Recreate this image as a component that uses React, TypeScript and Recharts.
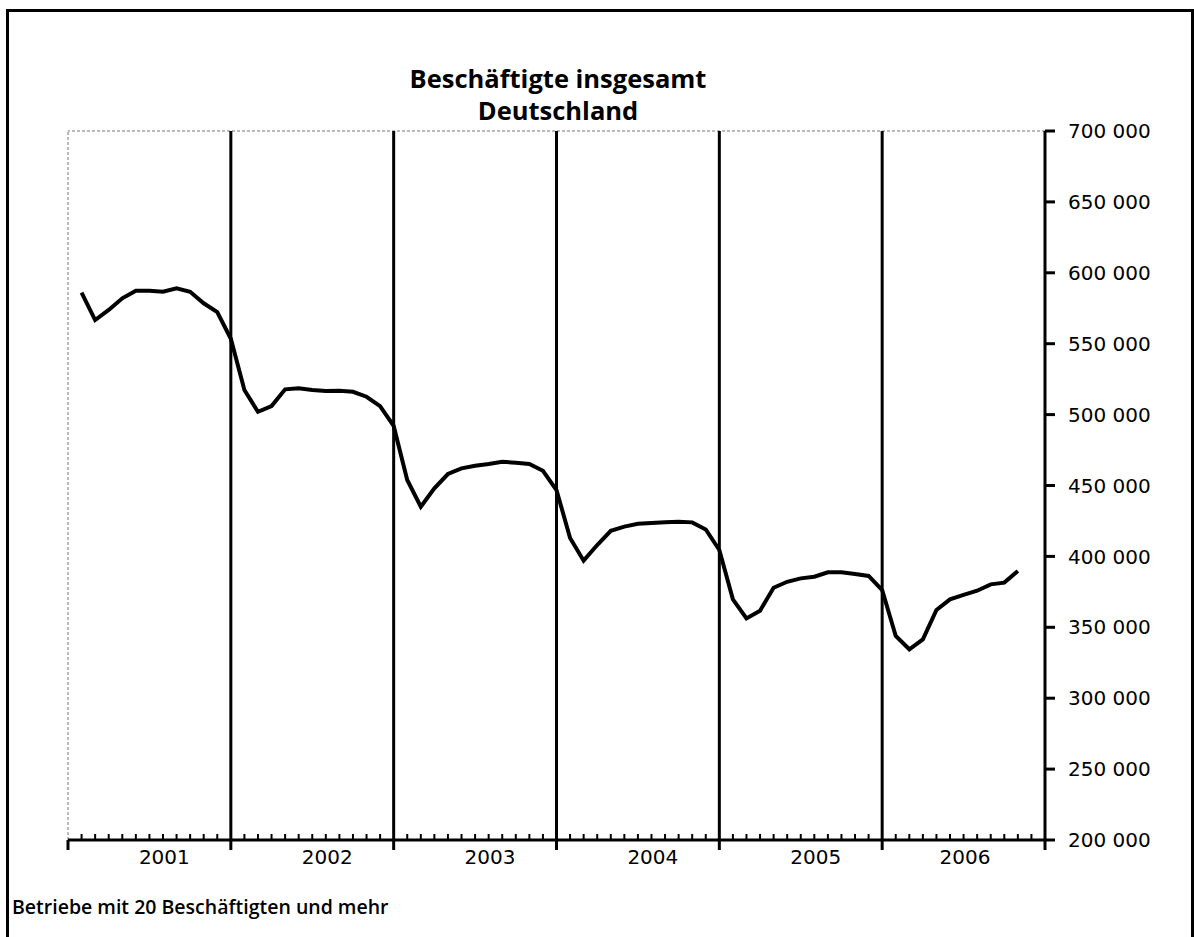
import React from "react";
import { LineChart, Line, XAxis, YAxis, ReferenceLine } from "recharts";

// Beschäftigte insgesamt, Deutschland – monthly values per year
const YEARS = ["2001", "2002", "2003", "2004", "2005", "2006"];
const V2001 = [586000, 566700, 573800, 582000, 587400, 587400, 586600, 589000, 586600, 578500, 572300, 553500];
const V2002 = [517300, 502000, 506000, 517800, 518500, 517300, 516600, 516800, 516100, 512600, 506000, 492000];
const V2003 = [453900, 435000, 448000, 458100, 462100, 463900, 465200, 466800, 466000, 465200, 460400, 446800];
const V2004 = [413000, 397000, 408000, 418000, 421000, 423000, 423500, 424000, 424500, 424000, 419000, 404500];
const V2005 = [369700, 356300, 361700, 377900, 382100, 384500, 385700, 388800, 388800, 387600, 386200, 376300];
const V2006 = [343900, 334500, 341500, 362200, 369700, 372800, 375800, 380300, 381500, 389700];

const Y_TICKS = [200000, 250000, 300000, 350000, 400000, 450000, 500000, 550000, 600000, 650000, 700000];

const series = [V2001, V2002, V2003, V2004, V2005, V2006];
const data = series.flatMap((vals, yi) => vals.map((v, m) => ({ month: yi * 12 + m + 1, value: v })));

const MONTH_TICKS = Array.from({ length: 73 }, (_, i) => i);
const YEAR_BOUNDS = [12, 24, 36, 48, 60];
// year labels sit roughly in the middle of each year's months
const YEAR_LABEL_TICKS = series.map((vals, yi) => yi * 12 + (1 + vals.length) / 2 + 0.6);
const X_TICKS = [...MONTH_TICKS, ...YEAR_LABEL_TICKS].sort((a, b) => a - b);

const NUM_FONT = "'DejaVu Sans', sans-serif";

const fmt = (v: number) => {
  const s = String(v);
  return s.slice(0, s.length - 3) + " " + s.slice(-3);
};

const MonthTick = (props: any) => {
  const { x, y, payload } = props;
  const i = payload.value as number;
  if (!Number.isInteger(i)) {
    return (
      <text x={x} y={y + 24} textAnchor="middle" fontSize={20} fontFamily={NUM_FONT} fill="#000">
        {YEARS[Math.floor(i / 12)]}
      </text>
    );
  }
  const major = i % 12 === 0;
  return <line x1={x} x2={x} y1={y} y2={major ? y + 10 : y - 6} stroke="#000" strokeWidth={major ? 3 : 2} />;
};

export default function App() {
  return (
    <div style={{ position: "relative", width: 1194, height: 937, fontFamily: "'Open Sans', sans-serif" }}>
      <style>{`body{margin:0;overflow:hidden;background:#fff}`}</style>
      <div
        style={{
          position: "absolute",
          left: 6,
          top: 9,
          width: 1182,
          height: 940,
          border: "3px solid #000",
          boxSizing: "content-box",
        }}
      />
      <div
        style={{
          position: "absolute",
          left: 0,
          width: 1116,
          top: 62,
          textAlign: "center",
          fontWeight: 700,
          fontSize: 25.5,
          lineHeight: "32px",
          color: "#000",
        }}
      >
        <div>Beschäftigte insgesamt</div>
        <div>Deutschland</div>
      </div>
      <div style={{ position: "absolute", left: 0, top: 0 }}>
        <LineChart width={1194} height={937} data={data} margin={{ top: 131, right: 49, bottom: 57, left: 68 }}>
          <XAxis
            dataKey="month"
            type="number"
            domain={[0, 72]}
            ticks={X_TICKS}
            interval={0}
            height={40}
            tickSize={0}
            tickMargin={0}
            tickLine={false}
            axisLine={{ stroke: "#000", strokeWidth: 3 }}
            tick={<MonthTick />}
          />
          <YAxis
            orientation="right"
            width={100}
            domain={[200000, 700000]}
            ticks={Y_TICKS}
            interval={0}
            tickFormatter={fmt}
            tickSize={10}
            tickMargin={13}
            axisLine={{ stroke: "#000", strokeWidth: 3 }}
            tickLine={{ stroke: "#000", strokeWidth: 3 }}
            tick={{ fill: "#000", fontSize: 20, fontFamily: NUM_FONT, textAnchor: "start" }}
          />
          <ReferenceLine y={700000} stroke="#777" strokeWidth={1} strokeDasharray="3 2" />
          <ReferenceLine x={0} stroke="#777" strokeWidth={1} strokeDasharray="3 2" />
          {YEAR_BOUNDS.map((b) => (
            <ReferenceLine key={b} x={b} stroke="#000" strokeWidth={3} />
          ))}
          <Line
            type="linear"
            dataKey="value"
            stroke="#000"
            strokeWidth={4}
            dot={false}
            isAnimationActive={false}
          />
        </LineChart>
      </div>
      <div
        style={{
          position: "absolute",
          left: 12,
          top: 894,
          fontSize: 19.5,
          lineHeight: "26px",
          fontWeight: 600,
          color: "#000",
          whiteSpace: "nowrap",
        }}
      >
        Betriebe mit 20 Beschäftigten und mehr
      </div>
    </div>
  );
}
